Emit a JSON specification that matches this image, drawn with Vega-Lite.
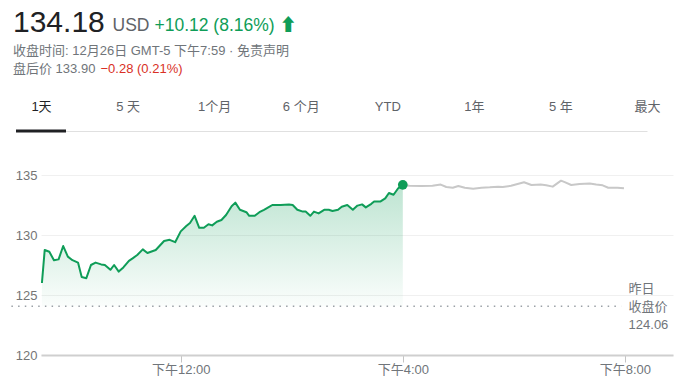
{
  "$schema": "https://vega.github.io/schema/vega-lite/v6.json",
  "padding": {"left": 10, "top": 7, "right": 11, "bottom": 15},
  "background": "white",
  "title": {
    "text": "134.18",
    "subtitle": ["收盘时间: 12月26日 GMT-5 下午7:59 · 免责声明", "盘后价 133.90"],
    "anchor": "start",
    "frame": "group",
    "dx": -28,
    "offset": -60,
    "fontSize": 30,
    "fontWeight": "normal",
    "color": "#202124",
    "subtitleFontSize": 13,
    "subtitleColor": "#70757a",
    "subtitleLineHeight": 18,
    "subtitlePadding": 7.5
  },
  "datasets": {
    "prices": [
      {"t": "2018-12-26T09:30:00", "p": 126.0, "session": "regular"},
      {"t": "2018-12-26T09:33:00", "p": 128.75, "session": "regular"},
      {"t": "2018-12-26T09:38:00", "p": 128.6, "session": "regular"},
      {"t": "2018-12-26T09:43:00", "p": 127.9, "session": "regular"},
      {"t": "2018-12-26T09:48:00", "p": 127.97, "session": "regular"},
      {"t": "2018-12-26T09:53:00", "p": 129.08, "session": "regular"},
      {"t": "2018-12-26T09:58:00", "p": 128.2, "session": "regular"},
      {"t": "2018-12-26T10:03:00", "p": 127.9, "session": "regular"},
      {"t": "2018-12-26T10:09:00", "p": 127.7, "session": "regular"},
      {"t": "2018-12-26T10:13:00", "p": 126.5, "session": "regular"},
      {"t": "2018-12-26T10:18:00", "p": 126.4, "session": "regular"},
      {"t": "2018-12-26T10:23:00", "p": 127.5, "session": "regular"},
      {"t": "2018-12-26T10:28:00", "p": 127.7, "session": "regular"},
      {"t": "2018-12-26T10:34:00", "p": 127.55, "session": "regular"},
      {"t": "2018-12-26T10:38:00", "p": 127.5, "session": "regular"},
      {"t": "2018-12-26T10:44:00", "p": 127.1, "session": "regular"},
      {"t": "2018-12-26T10:48:00", "p": 127.5, "session": "regular"},
      {"t": "2018-12-26T10:53:00", "p": 126.95, "session": "regular"},
      {"t": "2018-12-26T10:58:00", "p": 127.3, "session": "regular"},
      {"t": "2018-12-26T11:04:00", "p": 127.85, "session": "regular"},
      {"t": "2018-12-26T11:08:00", "p": 128.05, "session": "regular"},
      {"t": "2018-12-26T11:13:00", "p": 128.33, "session": "regular"},
      {"t": "2018-12-26T11:19:00", "p": 128.8, "session": "regular"},
      {"t": "2018-12-26T11:24:00", "p": 128.5, "session": "regular"},
      {"t": "2018-12-26T11:33:00", "p": 128.75, "session": "regular"},
      {"t": "2018-12-26T11:42:00", "p": 129.5, "session": "regular"},
      {"t": "2018-12-26T11:48:00", "p": 129.6, "session": "regular"},
      {"t": "2018-12-26T11:54:00", "p": 129.4, "session": "regular"},
      {"t": "2018-12-26T12:00:00", "p": 130.3, "session": "regular"},
      {"t": "2018-12-26T12:06:00", "p": 130.75, "session": "regular"},
      {"t": "2018-12-26T12:10:00", "p": 131.0, "session": "regular"},
      {"t": "2018-12-26T12:15:00", "p": 131.6, "session": "regular"},
      {"t": "2018-12-26T12:20:00", "p": 130.6, "session": "regular"},
      {"t": "2018-12-26T12:25:00", "p": 130.6, "session": "regular"},
      {"t": "2018-12-26T12:30:00", "p": 130.9, "session": "regular"},
      {"t": "2018-12-26T12:34:00", "p": 130.8, "session": "regular"},
      {"t": "2018-12-26T12:39:00", "p": 131.1, "session": "regular"},
      {"t": "2018-12-26T12:44:00", "p": 131.25, "session": "regular"},
      {"t": "2018-12-26T12:49:00", "p": 131.67, "session": "regular"},
      {"t": "2018-12-26T12:55:00", "p": 132.4, "session": "regular"},
      {"t": "2018-12-26T12:59:00", "p": 132.7, "session": "regular"},
      {"t": "2018-12-26T13:04:00", "p": 132.1, "session": "regular"},
      {"t": "2018-12-26T13:11:00", "p": 131.9, "session": "regular"},
      {"t": "2018-12-26T13:14:00", "p": 131.6, "session": "regular"},
      {"t": "2018-12-26T13:20:00", "p": 131.6, "session": "regular"},
      {"t": "2018-12-26T13:25:00", "p": 131.9, "session": "regular"},
      {"t": "2018-12-26T13:30:00", "p": 132.1, "session": "regular"},
      {"t": "2018-12-26T13:36:00", "p": 132.36, "session": "regular"},
      {"t": "2018-12-26T13:39:00", "p": 132.5, "session": "regular"},
      {"t": "2018-12-26T13:48:00", "p": 132.5, "session": "regular"},
      {"t": "2018-12-26T13:57:00", "p": 132.55, "session": "regular"},
      {"t": "2018-12-26T14:01:00", "p": 132.5, "session": "regular"},
      {"t": "2018-12-26T14:06:00", "p": 132.1, "session": "regular"},
      {"t": "2018-12-26T14:12:00", "p": 131.95, "session": "regular"},
      {"t": "2018-12-26T14:15:00", "p": 131.95, "session": "regular"},
      {"t": "2018-12-26T14:20:00", "p": 131.6, "session": "regular"},
      {"t": "2018-12-26T14:24:00", "p": 131.95, "session": "regular"},
      {"t": "2018-12-26T14:29:00", "p": 131.8, "session": "regular"},
      {"t": "2018-12-26T14:35:00", "p": 132.1, "session": "regular"},
      {"t": "2018-12-26T14:40:00", "p": 132.1, "session": "regular"},
      {"t": "2018-12-26T14:44:00", "p": 132.0, "session": "regular"},
      {"t": "2018-12-26T14:50:00", "p": 132.1, "session": "regular"},
      {"t": "2018-12-26T14:54:00", "p": 132.36, "session": "regular"},
      {"t": "2018-12-26T15:00:00", "p": 132.5, "session": "regular"},
      {"t": "2018-12-26T15:06:00", "p": 132.1, "session": "regular"},
      {"t": "2018-12-26T15:11:00", "p": 132.45, "session": "regular"},
      {"t": "2018-12-26T15:16:00", "p": 132.55, "session": "regular"},
      {"t": "2018-12-26T15:20:00", "p": 132.3, "session": "regular"},
      {"t": "2018-12-26T15:26:00", "p": 132.6, "session": "regular"},
      {"t": "2018-12-26T15:29:00", "p": 132.8, "session": "regular"},
      {"t": "2018-12-26T15:36:00", "p": 132.8, "session": "regular"},
      {"t": "2018-12-26T15:41:00", "p": 133.05, "session": "regular"},
      {"t": "2018-12-26T15:45:00", "p": 133.5, "session": "regular"},
      {"t": "2018-12-26T15:50:00", "p": 133.35, "session": "regular"},
      {"t": "2018-12-26T15:55:00", "p": 133.9, "session": "regular"},
      {"t": "2018-12-26T16:00:00", "p": 134.18, "session": "regular"},
      {"t": "2018-12-26T16:00:00", "p": 134.18, "session": "after"},
      {"t": "2018-12-26T16:07:00", "p": 134.1, "session": "after"},
      {"t": "2018-12-26T16:20:00", "p": 134.08, "session": "after"},
      {"t": "2018-12-26T16:32:00", "p": 134.1, "session": "after"},
      {"t": "2018-12-26T16:41:00", "p": 134.2, "session": "after"},
      {"t": "2018-12-26T16:47:00", "p": 134.0, "session": "after"},
      {"t": "2018-12-26T16:54:00", "p": 133.94, "session": "after"},
      {"t": "2018-12-26T17:00:00", "p": 134.08, "session": "after"},
      {"t": "2018-12-26T17:07:00", "p": 133.94, "session": "after"},
      {"t": "2018-12-26T17:16:00", "p": 133.86, "session": "after"},
      {"t": "2018-12-26T17:25:00", "p": 133.94, "session": "after"},
      {"t": "2018-12-26T17:34:00", "p": 133.97, "session": "after"},
      {"t": "2018-12-26T17:43:00", "p": 134.03, "session": "after"},
      {"t": "2018-12-26T17:48:00", "p": 134.0, "session": "after"},
      {"t": "2018-12-26T17:57:00", "p": 134.1, "session": "after"},
      {"t": "2018-12-26T18:04:00", "p": 134.25, "session": "after"},
      {"t": "2018-12-26T18:11:00", "p": 134.4, "session": "after"},
      {"t": "2018-12-26T18:19:00", "p": 134.17, "session": "after"},
      {"t": "2018-12-26T18:29:00", "p": 134.2, "session": "after"},
      {"t": "2018-12-26T18:35:00", "p": 134.14, "session": "after"},
      {"t": "2018-12-26T18:42:00", "p": 134.03, "session": "after"},
      {"t": "2018-12-26T18:51:00", "p": 134.53, "session": "after"},
      {"t": "2018-12-26T18:55:00", "p": 134.4, "session": "after"},
      {"t": "2018-12-26T19:02:00", "p": 134.17, "session": "after"},
      {"t": "2018-12-26T19:11:00", "p": 134.25, "session": "after"},
      {"t": "2018-12-26T19:22:00", "p": 134.3, "session": "after"},
      {"t": "2018-12-26T19:29:00", "p": 134.2, "session": "after"},
      {"t": "2018-12-26T19:36:00", "p": 134.14, "session": "after"},
      {"t": "2018-12-26T19:42:00", "p": 133.94, "session": "after"},
      {"t": "2018-12-26T19:52:00", "p": 133.94, "session": "after"},
      {"t": "2018-12-26T19:59:00", "p": 133.9, "session": "after"}
    ],
    "tabs": [
      {"tab": "1天", "selected": true},
      {"tab": "5 天", "selected": false},
      {"tab": "1个月", "selected": false},
      {"tab": "6 个月", "selected": false},
      {"tab": "YTD", "selected": false},
      {"tab": "1年", "selected": false},
      {"tab": "5 年", "selected": false},
      {"tab": "最大", "selected": false}
    ],
    "prevClose": [
      {"p": 124.06, "label": "昨日\n收盘价\n124.06"}
    ],
    "lastClose": [
      {"t": "2018-12-26T16:00:00", "p": 134.18}
    ]
  },
  "spacing": 10,
  "bounds": "flush",
  "vconcat": [
    {
      "width": 606,
      "height": 10,
      "data": {"name": "tabs"},
      "mark": {"type": "tick", "orient": "horizontal", "thickness": 3, "size": 50, "color": "#202124"},
      "encoding": {
        "x": {
          "field": "tab",
          "type": "nominal",
          "sort": null,
          "scale": {"type": "point", "padding": 0},
          "axis": {
            "orient": "top",
            "labelAngle": 0,
            "labelColor": {"condition": {"test": "datum.value === '1天'", "value": "#202124"}, "value": "#5f6368"},
            "labelFontSize": 13,
            "labelBaseline": "middle",
            "labelPadding": 25,
            "ticks": false,
            "domain": true,
            "domainColor": "#e0e0e0",
            "domainWidth": 1,
            "grid": false,
            "title": "−0.28 (0.21%)",
            "titleX": 59,
            "titleY": -59,
            "titleAlign": "left",
            "titleBaseline": "alphabetic",
            "titleAngle": 0,
            "titleColor": "#d93025",
            "titleFontSize": 13,
            "titleFontWeight": "normal"
          }
        },
        "y": {"datum": 1, "type": "quantitative", "scale": {"domain": [0, 1]}, "axis": null},
        "opacity": {"condition": {"test": "datum.selected", "value": 1}, "value": 0}
      }
    },
    {
      "width": 632,
      "height": 204,
      "layer": [
        {
          "data": {"name": "prices"},
          "transform": [{"filter": "datum.session === 'regular'"}],
          "mark": {
            "type": "area",
            "color": {
              "gradient": "linear",
              "x1": 0, "y1": 0, "x2": 0, "y2": 1,
              "stops": [
                {"offset": 0, "color": "rgba(15,157,88,0.27)"},
                {"offset": 1, "color": "rgba(15,157,88,0.02)"}
              ]
            }
          },
          "encoding": {
            "x": {
              "field": "t",
              "type": "temporal",
              "scale": {"domain": [
                {"year": 2018, "month": 12, "date": 26, "hours": 9, "minutes": 29},
                {"year": 2018, "month": 12, "date": 26, "hours": 20, "minutes": 52}
              ]},
              "axis": {
                "values": [
                  {"year": 2018, "month": 12, "date": 26, "hours": 12, "minutes": 0},
                  {"year": 2018, "month": 12, "date": 26, "hours": 16, "minutes": 0},
                  {"year": 2018, "month": 12, "date": 26, "hours": 20, "minutes": 0}
                ],
                "labelExpr": "'下午' + timeFormat(datum.value, '%-I:%M')",
                "labelColor": "#70757a",
                "labelFontSize": 13,
                "labelPadding": 1,
                "labelOverlap": false,
                "labelFlush": false,
                "ticks": true,
                "tickColor": "#c4c4c4",
                "tickSize": 7,
                "domain": true,
                "domainColor": "#cfcfcf",
                "domainWidth": 2,
                "grid": false,
                "title": "+10.12 (8.16%) ⬆",
                "titleX": 113,
                "titleY": -325,
                "titleAlign": "left",
                "titleBaseline": "alphabetic",
                "titleAngle": 0,
                "titleColor": "#0f9d58",
                "titleFontSize": 17.5,
                "titleFontWeight": "normal"
              }
            },
            "y": {
              "field": "p",
              "type": "quantitative",
              "scale": {"domain": [120, 137], "nice": false, "zero": false},
              "axis": {
                "values": [120, 125, 130, 135],
                "labelColor": "#757575",
                "labelFontSize": 13,
                "labelPadding": 4,
                "ticks": false,
                "domain": false,
                "grid": true,
                "gridColor": "#f0f0f0",
                "gridWidth": 1,
                "title": "USD",
                "titleX": 71,
                "titleY": -121,
                "titleAngle": 0,
                "titleAlign": "left",
                "titleBaseline": "alphabetic",
                "titleColor": "#5f6368",
                "titleFontSize": 17.5,
                "titleFontWeight": "normal"
              }
            },
            "y2": {"datum": 124.06}
          }
        },
        {
          "data": {"name": "prevClose"},
          "mark": {"type": "rule", "color": "#9aa0a6", "strokeDash": [1.5, 5.2], "strokeWidth": 1.5},
          "encoding": {
            "x": {"datum": {"year": 2018, "month": 12, "date": 26, "hours": 8, "minutes": 57}, "type": "temporal"},
            "x2": {"datum": {"year": 2018, "month": 12, "date": 26, "hours": 19, "minutes": 56}},
            "y": {"field": "p", "type": "quantitative"}
          }
        },
        {
          "data": {"name": "prices"},
          "mark": {"type": "line", "strokeWidth": 2, "strokeJoin": "round"},
          "encoding": {
            "x": {"field": "t", "type": "temporal"},
            "y": {"field": "p", "type": "quantitative"},
            "color": {"field": "session", "type": "nominal", "scale": {"domain": ["after", "regular"], "range": ["#c8c8c8", "#0f9d58"]}, "legend": null}
          }
        },
        {
          "data": {"name": "lastClose"},
          "mark": {"type": "point", "filled": true, "size": 95, "color": "#0f9d58", "opacity": 1},
          "encoding": {
            "x": {"field": "t", "type": "temporal"},
            "y": {"field": "p", "type": "quantitative"}
          }
        },
        {
          "data": {"name": "prevClose"},
          "mark": {"type": "text", "align": "left", "baseline": "middle", "lineBreak": "\n", "lineHeight": 18, "fontSize": 13, "color": "#70757a", "dy": -17},
          "encoding": {
            "x": {"datum": {"year": 2018, "month": 12, "date": 26, "hours": 20, "minutes": 4}, "type": "temporal"},
            "y": {"field": "p", "type": "quantitative"},
            "text": {"field": "label"}
          }
        }
      ]
    }
  ],
  "config": {
    "font": "Liberation Sans, Noto Sans CJK SC, sans-serif",
    "view": {"stroke": null},
    "axis": {"labelFont": "Liberation Sans, Noto Sans CJK SC, sans-serif", "titleFont": "Liberation Sans, Noto Sans CJK SC, sans-serif"},
    "title": {"font": "Liberation Sans, Noto Sans CJK SC, sans-serif", "subtitleFont": "Liberation Sans, Noto Sans CJK SC, sans-serif"}
  }
}
